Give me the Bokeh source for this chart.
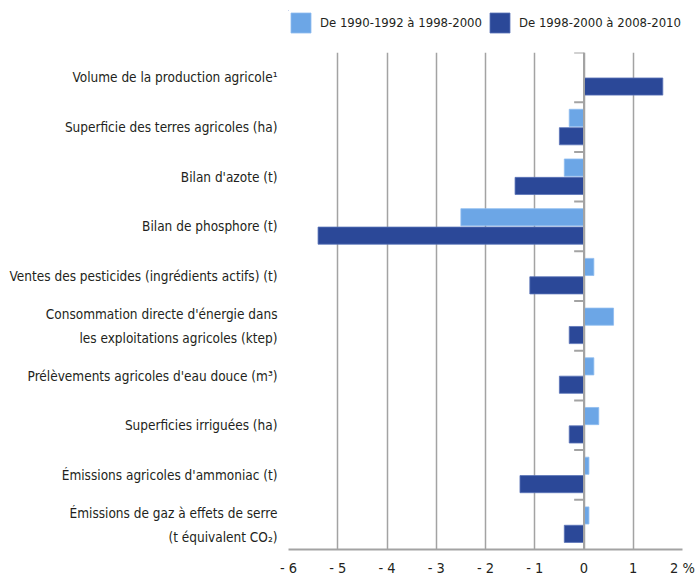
import math
from bokeh.plotting import figure
from bokeh.layouts import column
from bokeh.models import (FactorRange, Legend, LegendItem, FixedTicker, ColumnDataSource,
                          Span, Range1d)
from bokeh.transform import dodge
from bokeh.embed import file_html
from bokeh.resources import INLINE

categories = [
    "Volume de la production agricole¹",
    "Superficie des terres agricoles (ha)",
    "Bilan d'azote (t)",
    "Bilan de phosphore (t)",
    "Ventes des pesticides (ingrédients actifs) (t)",
    "Consommation directe d'énergie dans\nles exploitations agricoles (ktep)",
    "Prélèvements agricoles d'eau douce (m³)",
    "Superficies irriguées (ha)",
    "Émissions agricoles d'ammoniac (t)",
    "Émissions de gaz à effets de serre\n(t équivalent CO₂)",
]
series_names = ["De 1990-1992 à 1998-2000", "De 1998-2000 à 2008-2010"]
change_1990_2000 = [math.nan, -0.3, -0.4, -2.5, 0.2, 0.6, 0.2, 0.3, 0.1, 0.1]
change_2000_2010 = [1.6, -0.5, -1.4, -5.4, -1.1, -0.3, -0.5, -0.3, -1.3, -0.4]
x_ticks = [-6, -5, -4, -3, -2, -1, 0, 1, 2]
x_tick_labels = ["- 6", "- 5", "- 4", "- 3", "- 2", "- 1", "0", "1", "2 %"]

FONT = "'DejaVu Sans Condensed', 'Roboto Condensed', 'Noto Sans', sans-serif"
LIGHT = "#6ca6e6"
DARK = "#2b4898"
LIGHT_EDGE = "#8fbcf0"
DARK_EDGE = "#5a74b8"
GRID = "#a3a3a3"
TEXT = "#231f20"

src = ColumnDataSource(dict(cat=categories, a=change_1990_2000, b=change_2000_2010))

# ---- main chart ----
p = figure(width=697, height=526, output_backend="svg", toolbar_location=None,
           x_range=(x_ticks[0], x_ticks[-1]),
           y_range=FactorRange(factors=list(reversed(categories)), range_padding=0,
                               factor_padding=0),
           min_border_left=282, min_border_right=15, min_border_top=0, min_border_bottom=23,
           background_fill_color="white", border_fill_color="white",
           outline_line_color=None)

p.hbar(y=dodge("cat", 0.185, range=p.y_range), left=0, right="a", height=0.345,
       source=src, fill_color=LIGHT, line_color=LIGHT_EDGE, line_width=0.8)
p.hbar(y=dodge("cat", -0.185, range=p.y_range), left=0, right="b", height=0.345,
       source=src, fill_color=DARK, line_color=DARK_EDGE, line_width=0.8)

# zero line and category boundary ticks
p.add_layout(Span(location=0, dimension="height", line_color=GRID, line_width=2))
n = len(categories)
bounds = list(range(1, n + 1))
p.segment(x0=[-0.2] * len(bounds), x1=[0] * len(bounds), y0=bounds, y1=bounds,
          line_color=GRID, line_width=2)

p.xaxis.ticker = FixedTicker(ticks=x_ticks)
p.xaxis.major_label_overrides = {t: l for t, l in zip(x_ticks, x_tick_labels)}
p.xaxis.major_tick_line_color = None
p.xaxis.minor_tick_line_color = None
p.xaxis.axis_line_color = GRID
p.xaxis.axis_line_width = 2
p.xaxis.major_label_standoff = 4
p.xaxis.major_label_text_font = FONT
p.xaxis.major_label_text_font_size = "14.5px"
p.xaxis.major_label_text_color = TEXT

p.yaxis.major_tick_line_color = None
p.yaxis.axis_line_color = None
p.yaxis.major_label_standoff = 5
p.yaxis.major_label_text_font = FONT
p.yaxis.major_label_text_font_size = "13.5px"
p.yaxis.major_label_text_color = TEXT
p.yaxis.major_label_text_line_height = 1.5

p.xgrid.ticker = FixedTicker(ticks=x_ticks)
p.xgrid.grid_line_color = GRID
p.xgrid.grid_line_width = 1.5
p.ygrid.grid_line_color = None

# ---- legend strip on top ----
# one off-frame placeholder row per swatch (clipped, never visible)
swatch_src = ColumnDataSource(dict(y=[5.0], right=[0.0]))
lg = figure(width=697, height=52, output_backend="svg", toolbar_location=None,
            x_range=Range1d(0, 1), y_range=Range1d(0, 1),
            x_axis_location=None, y_axis_location=None,
            min_border_left=288, min_border_right=0, min_border_top=10, min_border_bottom=0,
            background_fill_color="white", border_fill_color="white",
            outline_line_color=None)
lg.grid.grid_line_color = None
lr1 = lg.hbar(y="y", left=0, right="right", height=0.1, source=swatch_src,
              fill_color=LIGHT, line_color=LIGHT_EDGE, line_width=0.8)
lr2 = lg.hbar(y="y", left=0, right="right", height=0.1, source=swatch_src,
              fill_color=DARK, line_color=DARK_EDGE, line_width=0.8)
legend = Legend(items=[LegendItem(label=series_names[0], renderers=[lr1]),
                       LegendItem(label=series_names[1], renderers=[lr2])],
                orientation="horizontal", location="top_left",
                glyph_width=25, glyph_height=25, label_standoff=7, spacing=5,
                padding=0, margin=0, border_line_color=None, background_fill_alpha=0,
                label_text_font=FONT, label_text_font_size="13px", label_text_color=TEXT)
lg.add_layout(legend)

layout = column(lg, p, spacing=0)
open("out.html", "w").write(file_html(layout, INLINE))
